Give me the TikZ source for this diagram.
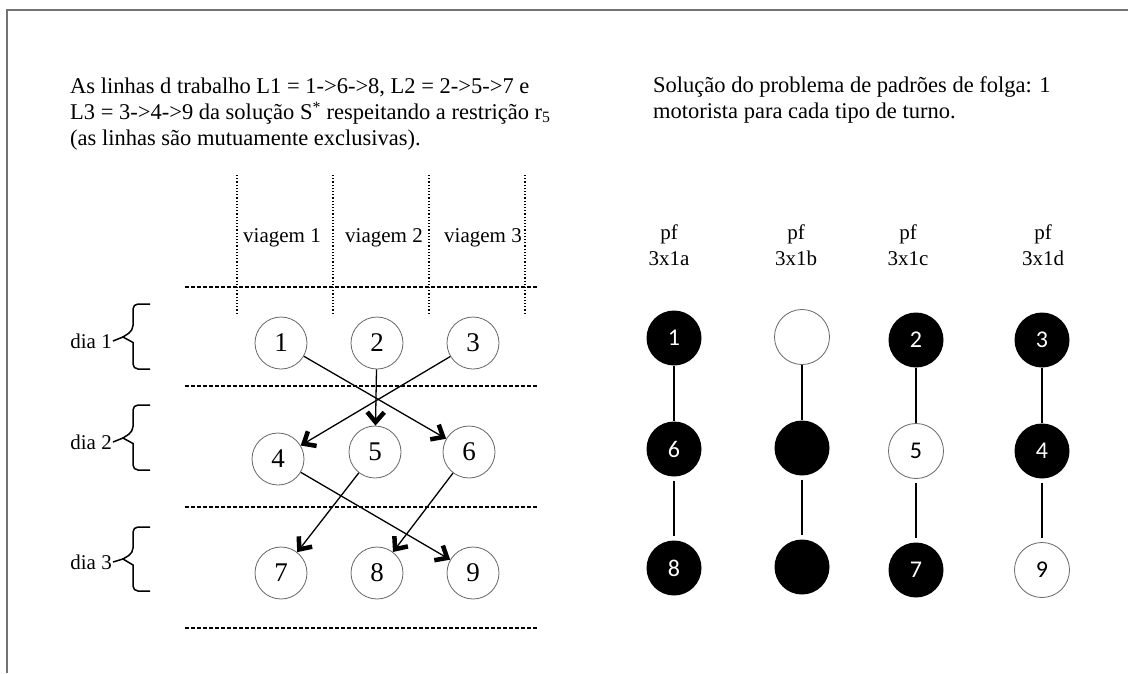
\documentclass[tikz,border=0pt]{standalone}
\usepackage{fontspec}
\setmainfont{Liberation Serif}
\newfontfamily\sansnum{Carlito}
\usetikzlibrary{arrows.meta}

\begin{document}
\begin{tikzpicture}[x=1pt,y=-1pt]
\tikzstyle{every node}=[font=\fontsize{21}{26}\selectfont]
\tikzstyle{circ}=[circle,draw=black!60,line width=0.8pt,minimum size=52pt,inner sep=0pt,font=\fontsize{27}{27}\selectfont]
\tikzstyle{full}=[circle,fill=black,minimum size=55pt,inner sep=0pt,text=white,font=\sansnum\fontsize{24}{24}\selectfont]
\tikzstyle{empty}=[circle,draw=black!60,line width=0.8pt,minimum size=55pt,inner sep=0pt,font=\sansnum\fontsize{24}{24}\selectfont]
\tikzstyle{sep}=[dash pattern=on 4pt off 2pt,line width=1.2pt]
\tikzstyle{col}=[dotted,line width=1.2pt]
\tikzstyle{bar}=[line width=1.5pt]
\tikzstyle{big}=[font=\fontsize{22.5}{26}\selectfont]
\tikzstyle{trip}=[line width=1.3pt,-{Straight Barb[length=10pt,width=17pt,line width=4.5pt]}]
\useasboundingbox (0,0) rectangle (1128,673);
\draw[black!55,line width=1.2pt] (1128,10) -- (7,10) -- (7,673);

% texts
\node[big,anchor=north west,align=left,inner sep=0pt] (txtL) at (70,78)
  {As linhas d trabalho L1 = 1->6->8, L2 = 2->5->7 e\\
   L3 = 3->4->9 da solução S\textsuperscript{*} respeitando a restrição r\textsubscript{5}\\
   (as linhas são mutuamente exclusivas).};
\node[big,anchor=north west,align=left,inner sep=0pt] (txtR) at (653,76)
  {Solução do problema de padrões de folga: 1\\
   motorista para cada tipo de turno.};

% grid
\foreach \x in {237,333,429,525}
  \draw[col] (\x,175) -- (\x,313);
\foreach \y in {287,386,507,628}
  \draw[sep] (185,\y) -- (537,\y);
\node (v1) at (282,238) {viagem 1};
\node (v2) at (384,238) {viagem 2};
\node (v3) at (483,238) {viagem 3};

% days
\node[anchor=east,inner sep=1pt] (dia1) at (113,341) {dia 1};
\node[anchor=east,inner sep=1pt] (dia2) at (113,442) {dia 2};
\node[anchor=east,inner sep=1pt] (dia3) at (113,562) {dia 3};
\coordinate (t1) at (123,337);
\coordinate (t2) at (123,438);
\coordinate (t3) at (123,559);
\foreach \t/\a/\b in {t1/304/369,t2/405/470,t3/527/591}
  \draw[bar,rounded corners=5pt] (150,\a) -- (133,\a) -- (133,\a/2+\b/2-6)
    [sharp corners] -- (\t) -- (133,\a/2+\b/2+6) [rounded corners=5pt] -- (133,\b) -- (150,\b);
\draw[bar] (dia1.east) -- (t1);
\draw[bar] (dia2.east) -- (t2);
\draw[bar] (dia3.east) -- (t3);

% trips
\node[circ] (n1) at (281,343) {1};
\node[circ] (n2) at (377,343) {2};
\node[circ] (n3) at (473,343) {3};
\node[circ] (n4) at (278,459) {4};
\node[circ] (n5) at (375,452) {5};
\node[circ] (n6) at (469,452) {6};
\node[circ] (n7) at (281,573) {7};
\node[circ] (n8) at (377,573) {8};
\node[circ] (n9) at (473,573) {9};
\foreach \s/\e in {1/6,2/5,3/4,4/9,5/7,6/8}
  \draw[trip] (n\s) -- (n\e);

% slack patterns
\node[align=center] (pfa) at (669,245) {pf\\3x1a};
\node[align=center] (pfb) at (796,245) {pf\\3x1b};
\node[align=center] (pfc) at (908,245) {pf\\3x1c};
\node[align=center] (pfd) at (1043,245) {pf\\3x1d};
\node[full] (a1) at (674,338) {1};
\node[full] (a2) at (674,449) {6};
\node[full] (a3) at (674,568) {8};
\node[empty] (b1) at (802,337) {};
\node[full] (b2) at (802,448) {};
\node[full] (b3) at (802,567) {};
\node[full] (c1) at (916,340) {2};
\node[empty] (c2) at (916,451) {5};
\node[full] (c3) at (916,570) {7};
\node[full] (d1) at (1042,340) {3};
\node[full] (d2) at (1042,451) {4};
\node[empty] (d3) at (1042,570) {9};
\foreach \c in {a,b,c,d} {
  \draw[line width=1.2pt] (\c1) -- (\c2);
  \draw[line width=1.2pt,shorten <=4pt,shorten >=4pt] (\c2) -- (\c3);
}
\end{tikzpicture}
\end{document}
